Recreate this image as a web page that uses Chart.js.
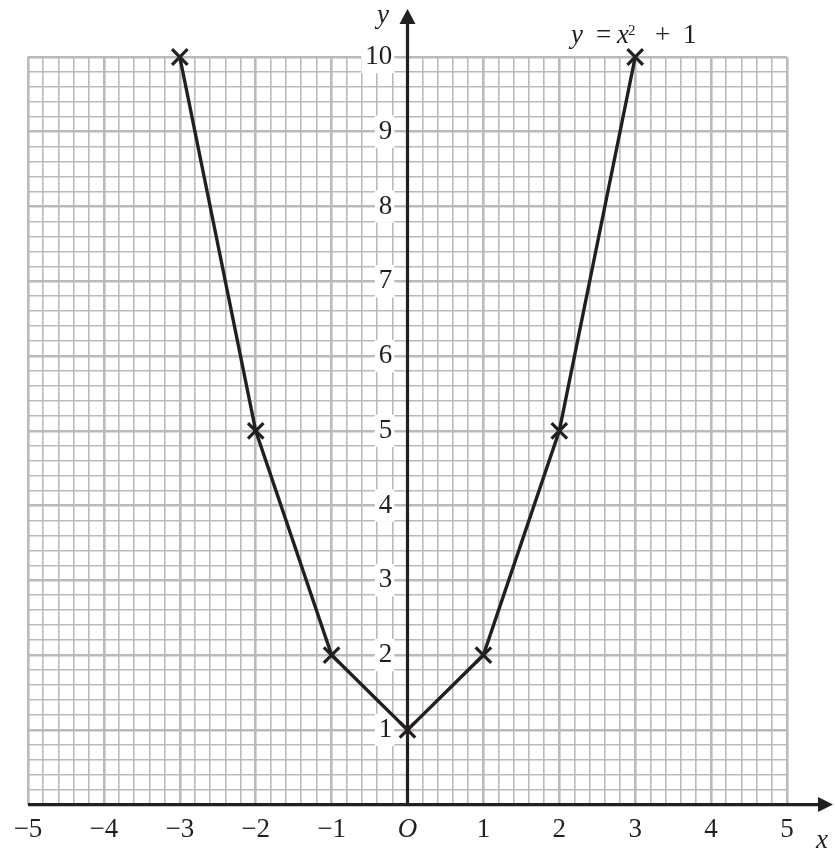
<!DOCTYPE html>
<html>
<head>
<meta charset="utf-8">
<script src="https://cdn.jsdelivr.net/npm/chart.js@4.4.1/dist/chart.umd.min.js"></script>
<style>
  html, body { margin: 0; padding: 0; background: #fff; }
  #wrap { width: 835px; height: 855px; }
</style>
</head>
<body>
<div id="wrap"><canvas id="c" width="835" height="855"></canvas></div>
<script>
// points plotted for y = x^2 + 1
const xValues = [-3, -2, -1, 0, 1, 2, 3];
const yValues = [10, 5, 2, 1, 2, 5, 10];

// axis ranges / graph-paper spacing
const xRange = [-5, 5];
const yRange = [0, 10];
const minorStep = 0.2;
const labelStep = 1;

const INK = '#231f20';
const GRID = '#b9babe';
const SERIF = '"Liberation Serif", "DejaVu Serif", serif';

function isMajor(v){ return Math.abs(v - Math.round(v)) < 1e-6; }
function fmt(v){ const n = Math.round(v); return n < 0 ? '\u2212' + Math.abs(n) : String(n); }
function gridWidth(ctx){ return ctx.tick && isMajor(ctx.tick.value) ? 2.6 : 1.6; }

// axes with arrow heads + the text that isn't a tick label
const axesPlugin = {
  id: 'axes',
  beforeDatasetsDraw(chart){
    const {ctx, scales: {x, y}} = chart;
    const x0 = x.getPixelForValue(0), y0 = y.getPixelForValue(0);
    const left = x.getPixelForValue(xRange[0]);
    ctx.save();
    ctx.strokeStyle = INK; ctx.fillStyle = INK; ctx.lineWidth = 3.2;
    // x axis
    ctx.beginPath(); ctx.moveTo(left, y0); ctx.lineTo(820, y0); ctx.stroke();
    ctx.beginPath(); ctx.moveTo(833, y0); ctx.lineTo(818, y0 - 7.5); ctx.lineTo(818, y0 + 7.5); ctx.closePath(); ctx.fill();
    // y axis
    ctx.beginPath(); ctx.moveTo(x0, y0 + 1.5); ctx.lineTo(x0, 22); ctx.stroke();
    ctx.beginPath(); ctx.moveTo(x0, 9); ctx.lineTo(x0 - 8, 24); ctx.lineTo(x0 + 8, 24); ctx.closePath(); ctx.fill();
    ctx.restore();
  },
  afterDraw(chart){
    const {ctx} = chart;
    ctx.save();
    ctx.fillStyle = INK;
    ctx.textAlign = 'left';
    ctx.textBaseline = 'alphabetic';
    ctx.font = 'italic 27px ' + SERIF;
    ctx.fillText('y', 377, 23);
    ctx.fillText('x', 816, 848);
    // y = x² + 1
    ctx.fillText('y', 571, 43);
    ctx.fillText('x', 617, 43);
    ctx.font = '27px ' + SERIF;
    ctx.fillText('=', 596, 43);
    ctx.fillText('+', 655, 43);
    ctx.fillText('1', 683, 43);
    ctx.font = '15px ' + SERIF;
    ctx.fillText('2', 628, 35);
    ctx.restore();
  }
};

const points = xValues.map((x, i) => ({ x, y: yValues[i] }));

new Chart(document.getElementById('c'), {
  type: 'scatter',
  data: {
    datasets: [{
      data: points,
      showLine: true,
      borderColor: INK,
      borderWidth: 3.4,
      tension: 0,
      pointStyle: 'crossRot',
      pointRadius: 11,
      pointHoverRadius: 11,
      pointBorderWidth: 3.2,
      pointBorderColor: INK,
      pointBackgroundColor: INK,
      clip: false
    }]
  },
  options: {
    responsive: false,
    animation: false,
    events: [],
    layout: { padding: { left: 28, right: 48, top: 57, bottom: 0 } },
    plugins: { legend: { display: false }, tooltip: { enabled: false } },
    scales: {
      x: {
        type: 'linear', min: xRange[0], max: xRange[1], position: 'bottom',
        grid: { color: GRID, lineWidth: gridWidth, drawTicks: false },
        border: { display: false },
        ticks: {
          stepSize: minorStep, autoSkip: false, maxRotation: 0, minRotation: 0,
          padding: 9, color: INK,
          font: ctx => ({ family: SERIF, size: 27, style: ctx.tick && ctx.tick.value === 0 ? 'italic' : 'normal' }),
          callback: v => isMajor(v) ? (Math.round(v) === 0 ? 'O' : fmt(v)) : ''
        }
      },
      y: {
        type: 'linear', min: yRange[0], max: yRange[1], position: 'left',
        grid: { color: GRID, lineWidth: gridWidth, drawTicks: false },
        border: { display: false },
        ticks: { stepSize: minorStep, display: false }
      },
      // tick labels sitting just left of the y axis, on white boxes
      yl: {
        type: 'linear', axis: 'y', min: yRange[0], max: yRange[1], position: { x: -0.2 },
        grid: { display: false, drawTicks: false },
        border: { display: false },
        afterBuildTicks: s => { s.ticks = s.ticks.filter(t => t.value !== 0); },
        ticks: {
          stepSize: labelStep, color: INK,
          font: { family: SERIF, size: 27 },
          showLabelBackdrop: true, backdropColor: '#fff',
          backdropPadding: { left: 4, right: 2, top: 0, bottom: 0 },
          callback: v => fmt(v)
        }
      }
    }
  },
  plugins: [axesPlugin]
});
</script>
</body>
</html>
